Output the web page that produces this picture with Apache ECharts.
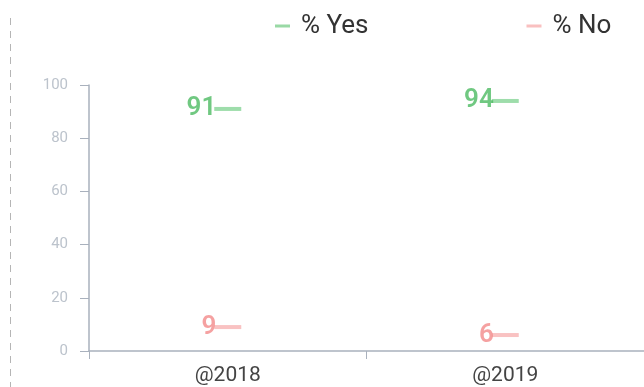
<!DOCTYPE html>
<html>
<head>
<meta charset="utf-8">
<script src="https://cdn.jsdelivr.net/npm/echarts@6/dist/echarts.min.js"></script>
<style>
  html, body { margin: 0; padding: 0; background: #fff; }
  #chart { width: 644px; height: 387px; }
</style>
</head>
<body>
<div id="chart"></div>
<script>
const years = ['@2018', '@2019'];
const yesValues = [91, 94];
const noValues = [9, 6];
const yTicks = [0, 20, 40, 60, 80, 100];

const chart = echarts.init(document.getElementById('chart'));

function dashSeries(name, values, markColor, labelColor) {
  return {
    name: name,
    type: 'scatter',
    data: values,
    symbol: 'rect',
    symbolSize: [27, 4],
    itemStyle: { color: markColor },
    label: {
      show: true,
      position: 'left',
      distance: -2,
      color: labelColor,
      fontSize: 26,
      fontWeight: 600,
      fontFamily: 'Roboto, sans-serif'
    },
    emphasis: { disabled: true }
  };
}

chart.setOption({
  animation: false,
  textStyle: { fontFamily: 'Roboto, sans-serif' },
  graphic: [{
    type: 'line',
    shape: { x1: 10.5, y1: 18, x2: 10.5, y2: 387 },
    style: { stroke: '#b5b5b5', lineWidth: 1, lineDash: [7, 6] }
  }],
  legend: {
    left: 270,
    top: 8,
    icon: 'rect',
    itemWidth: 15,
    itemHeight: 3,
    itemGap: 158,
    textStyle: { fontSize: 26, color: '#333', fontFamily: 'Roboto, sans-serif', padding: [0, 0, 0, 6] },
    data: [
      { name: '% Yes', itemStyle: { color: '#7fd08e' } },
      { name: '% No', itemStyle: { color: '#f7b0b0' } }
    ]
  },
  grid: { left: 89, right: -4, top: 85, bottom: 36 },
  xAxis: {
    type: 'category',
    data: years,
    axisLine: { lineStyle: { color: '#a9b1bd', width: 1.5 } },
    axisTick: { show: true, length: 8, lineStyle: { color: '#a9b1bd' } },
    axisLabel: { color: '#444', fontSize: 21, margin: 14 }
  },
  yAxis: {
    type: 'value',
    min: yTicks[0],
    max: yTicks[yTicks.length - 1],
    interval: 20,
    splitLine: { show: false },
    axisLine: { show: true, lineStyle: { color: '#a9b1bd', width: 1.5 } },
    axisTick: { show: true, length: 9, lineStyle: { color: '#a9b1bd' } },
    axisLabel: { color: '#bcc3cc', fontSize: 15, margin: 21 }
  },
  series: [
    dashSeries('% Yes', yesValues, '#86d496', '#4cba62'),
    dashSeries('% No', noValues, '#f7b3b3', '#f28a8a')
  ]
});
</script>
</body>
</html>
